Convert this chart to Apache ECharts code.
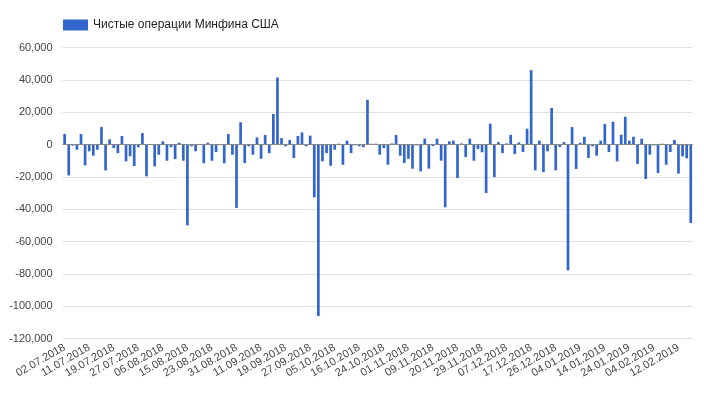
<!DOCTYPE html>
<html>
<head>
<meta charset="utf-8">
<script src="https://cdn.jsdelivr.net/npm/echarts@6/dist/echarts.min.js"></script>
<style>
html,body{margin:0;padding:0;background:#fff;}
#chart{width:704px;height:395px;}
</style>
</head>
<body>
<div id="chart"></div>
<script>
var seriesName = 'Чистые операции Минфина США';

var dates = [
'02.07.2018','03.07.2018','05.07.2018','06.07.2018','09.07.2018','10.07.2018',
'11.07.2018','12.07.2018','13.07.2018','16.07.2018','17.07.2018','18.07.2018',
'19.07.2018','20.07.2018','23.07.2018','24.07.2018','25.07.2018','26.07.2018',
'27.07.2018','30.07.2018','31.07.2018','01.08.2018','02.08.2018','03.08.2018',
'06.08.2018','07.08.2018','08.08.2018','09.08.2018','13.08.2018','14.08.2018',
'15.08.2018','16.08.2018','17.08.2018','20.08.2018','21.08.2018','22.08.2018',
'23.08.2018','24.08.2018','27.08.2018','28.08.2018','29.08.2018','30.08.2018',
'31.08.2018','04.09.2018','05.09.2018','06.09.2018','07.09.2018','10.09.2018',
'11.09.2018','12.09.2018','13.09.2018','14.09.2018','17.09.2018','18.09.2018',
'19.09.2018','20.09.2018','21.09.2018','24.09.2018','25.09.2018','26.09.2018',
'27.09.2018','28.09.2018','01.10.2018','02.10.2018','03.10.2018','04.10.2018',
'05.10.2018','09.10.2018','10.10.2018','11.10.2018','12.10.2018','15.10.2018',
'16.10.2018','17.10.2018','18.10.2018','19.10.2018','22.10.2018','23.10.2018',
'24.10.2018','25.10.2018','26.10.2018','29.10.2018','30.10.2018','31.10.2018',
'01.11.2018','02.11.2018','05.11.2018','06.11.2018','07.11.2018','08.11.2018',
'09.11.2018','13.11.2018','14.11.2018','15.11.2018','16.11.2018','19.11.2018',
'20.11.2018','21.11.2018','23.11.2018','26.11.2018','27.11.2018','28.11.2018',
'29.11.2018','30.11.2018','03.12.2018','04.12.2018','05.12.2018','06.12.2018',
'07.12.2018','10.12.2018','11.12.2018','12.12.2018','13.12.2018','14.12.2018',
'17.12.2018','18.12.2018','19.12.2018','20.12.2018','21.12.2018','24.12.2018',
'26.12.2018','27.12.2018','28.12.2018','31.12.2018','02.01.2019','03.01.2019',
'04.01.2019','07.01.2019','08.01.2019','09.01.2019','10.01.2019','11.01.2019',
'14.01.2019','16.01.2019','17.01.2019','18.01.2019','22.01.2019','23.01.2019',
'24.01.2019','25.01.2019','28.01.2019','29.01.2019','30.01.2019','31.01.2019',
'04.02.2019','05.02.2019','06.02.2019','07.02.2019','08.02.2019','11.02.2019',
'12.02.2019','13.02.2019','14.02.2019','15.02.2019'
];

var values = [
6600,-19000,-600,-3100,6600,-12800,
-4100,-6800,-3100,10900,-15900,3300,
-2100,-5200,5400,-10300,-7200,-13200,
-1600,7200,-19600,-200,-13400,-6200,
2100,-9900,-1600,-8900,1200,-9900,
-49900,-1000,-4100,300,-11500,1200,
-9900,-4500,-300,-11500,6600,-6200,
-39100,13900,-11300,-1000,-6200,4500,
-8700,6000,-5200,19000,41600,4100,
-1000,2900,-8200,5400,7600,-1000,
5600,-32500,-106000,-10300,-5200,-13000,
-3100,600,-12400,2500,-5200,-400,
-1000,-1600,27800,600,600,-6200,
-2100,-12400,800,6000,-6800,-11300,
-8700,-14800,-400,-16500,3700,-14800,
-800,3700,-9900,-38700,2100,2500,
-20600,800,-7600,3700,-9900,-2700,
-4700,-29900,13000,-20000,1600,-5200,
800,6100,-5800,1400,-4500,9900,
46100,-15900,2500,-16900,-4100,22700,
-15900,-1400,1600,-77700,10900,-15000,
1200,4900,-8200,-1000,-6800,2500,
12800,-4500,14200,-10300,6200,17300,
2500,4900,-11900,3700,-21200,-6200,
-400,-17500,600,-12400,-4500,2900,
-17900,-7200,-8400,-48400
];

var yMin = -120000, yMax = 60000, yStep = 20000;

function fmt(v){
  var s = Math.abs(v).toString().replace(/\B(?=(\d{3})+(?!\d))/g, ',');
  return (v < 0 ? '-' : '') + s;
}

var chart = echarts.init(document.getElementById('chart'));
chart.setOption({
  animation: false,
  backgroundColor: '#ffffff',
  textStyle: { fontFamily: 'Liberation Sans, Arial, sans-serif' },
  legend: {
    left: 58, top: 14,
    itemWidth: 25, itemHeight: 11,
    itemGap: 10,
    icon: 'rect',
    textStyle: { fontSize: 12, color: '#222', fontFamily: 'Liberation Sans, Arial, sans-serif' },
    data: [seriesName]
  },
  grid: { left: 62.6, right: 11.2, top: 47.7, bottom: 56.3, containLabel: false },
  xAxis: {
    type: 'category',
    data: dates,
    axisLine: { show: false, onZero: false },
    axisTick: { show: false },
    splitLine: { show: false },
    axisLabel: {
      interval: 5,
      rotate: 30,
      margin: 8,
      fontSize: 11,
      color: '#444',
      fontFamily: 'Liberation Sans, Arial, sans-serif'
    }
  },
  yAxis: {
    type: 'value',
    min: yMin, max: yMax, interval: yStep,
    axisLine: { show: false },
    axisTick: { show: false },
    splitLine: { lineStyle: { color: '#e0e0e0', width: 1 } },
    axisLabel: {
      formatter: fmt,
      margin: 10,
      fontSize: 11,
      color: '#444',
      fontFamily: 'Liberation Sans, Arial, sans-serif'
    }
  },
  series: [{
    name: seriesName,
    type: 'bar',
    data: values,
    barWidth: 2.7,
    itemStyle: { color: '#3366cc' },
    markLine: {
      silent: true,
      symbol: 'none',
      label: { show: false },
      lineStyle: { color: '#888', type: 'solid', width: 1 },
      data: [{ yAxis: 0 }]
    }
  }]
});
</script>
</body>
</html>
